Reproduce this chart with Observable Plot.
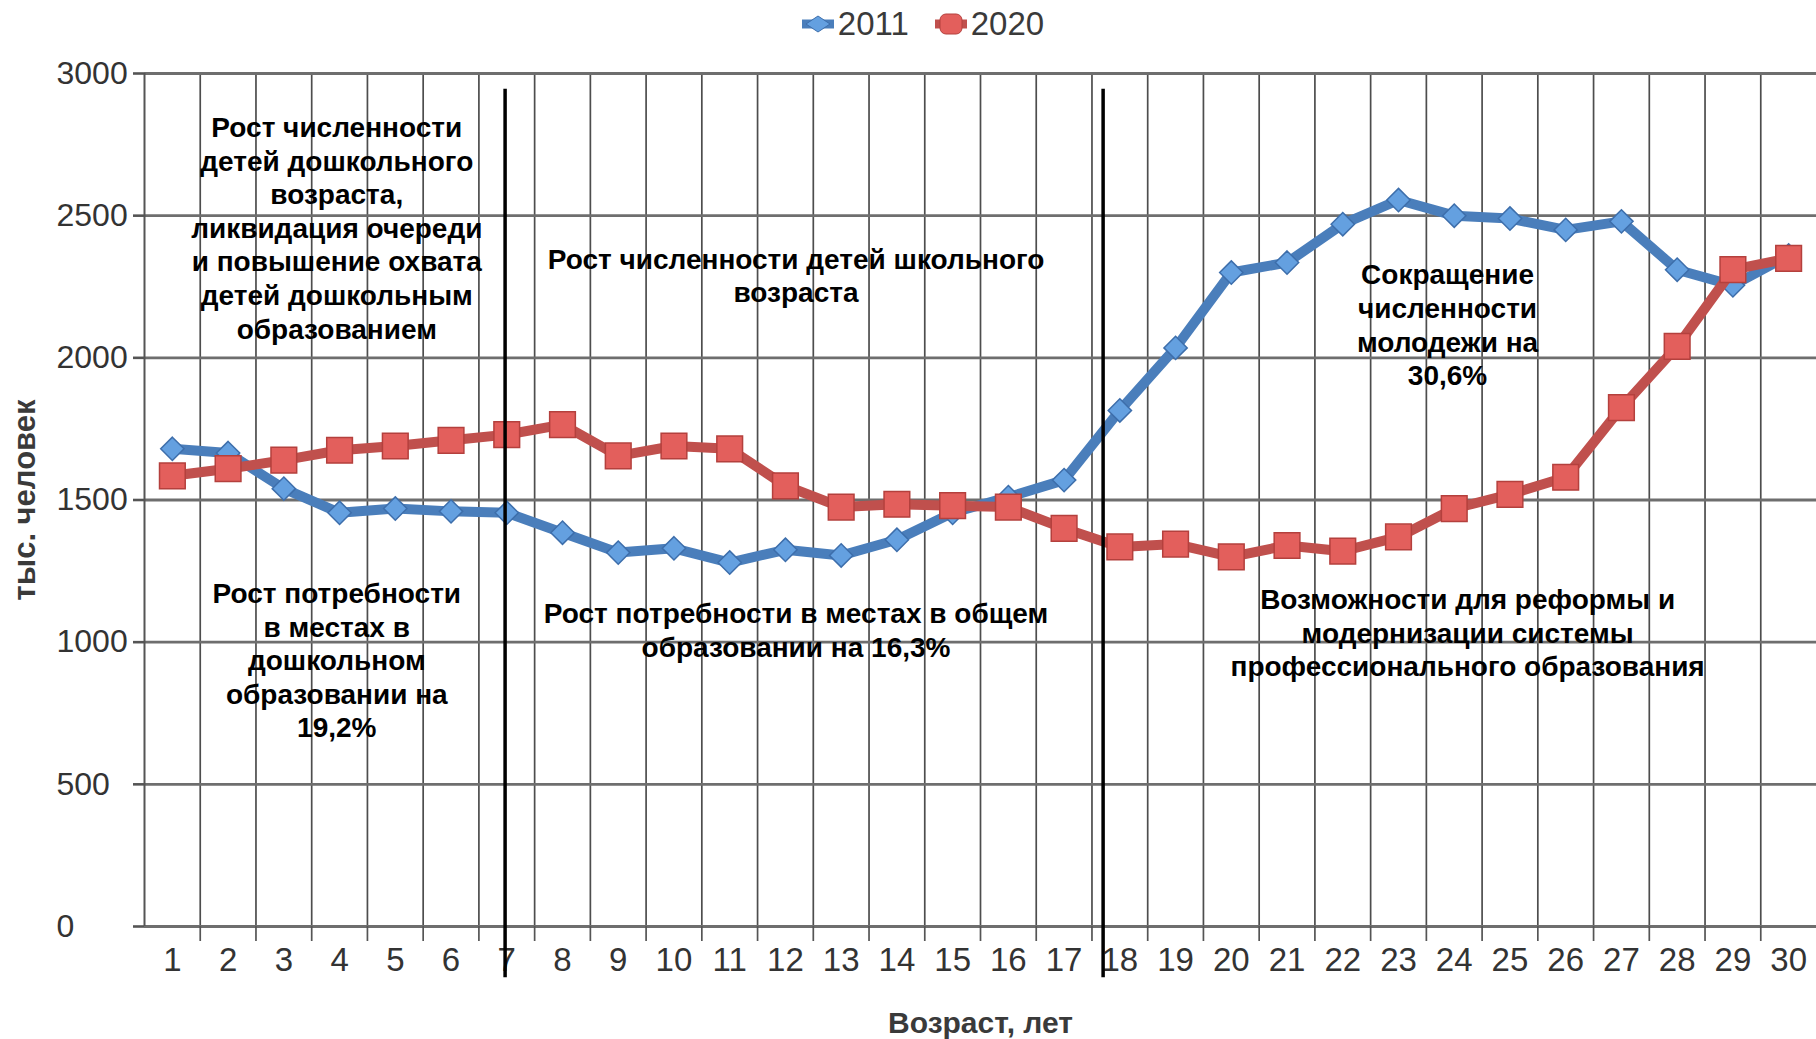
<!DOCTYPE html>
<html>
<head>
<meta charset="utf-8">
<script src="https://cdn.jsdelivr.net/npm/d3@7"></script>
<script src="https://cdn.jsdelivr.net/npm/@observablehq/plot@0.6"></script>
<style>
  html, body { margin: 0; padding: 0; background: #fff; }
  #wrap { position: relative; width: 1816px; height: 1039px; overflow: hidden; }
  #legend { position: absolute; top: 5px; left: 0; width: 1816px; display: flex; justify-content: center; align-items: center; gap: 26px;
            font-family: "Liberation Sans", Arial, sans-serif; font-size: 33px; color: #3a3a3a; padding-left: 30px; box-sizing: border-box; }
  .item { display: flex; align-items: center; gap: 4px; }
  #chart { position: absolute; top: 0; left: 0; }
</style>
</head>
<body>
<div id="wrap">
  <div id="chart"></div>
  <div id="legend"></div>
</div>
<script>
// ---- data ----
const ages = [1,2,3,4,5,6,7,8,9,10,11,12,13,14,15,16,17,18,19,20,21,22,23,24,25,26,27,28,29,30];
const pop2011 = [1680,1665,1540,1455,1470,1460,1455,1385,1315,1330,1280,1325,1305,1360,1455,1510,1570,1815,2035,2300,2335,2470,2555,2500,2490,2450,2480,2310,2255,2360];
const pop2020 = [1585,1610,1640,1675,1690,1710,1730,1765,1655,1690,1680,1550,1475,1485,1480,1475,1400,1335,1345,1300,1340,1320,1370,1470,1520,1580,1825,2040,2310,2350];
const yTicks = [0,500,1000,1500,2000,2500,3000];
const seriesNames = ["2011","2020"];
const dividers = [6.97, 17.7];
const notes = [
  {x: 3.95, y: 2460, text: "Рост численности\nдетей дошкольного\nвозраста,\nликвидация очереди\nи повышение охвата\nдетей дошкольным\nобразованием"},
  {x: 12.19, y: 2292, text: "Рост численности детей школьного\nвозраста"},
  {x: 23.88, y: 2119, text: "Сокращение\nчисленности\nмолодежи на\n30,6%"},
  {x: 3.95, y: 939, text: "Рост потребности\nв местах в\nдошкольном\nобразовании на\n19,2%"},
  {x: 12.19, y: 1045, text: "Рост потребности в местах в общем\nобразовании на 16,3%"},
  {x: 24.24, y: 1036, text: "Возможности для реформы и\nмодернизации системы\nпрофессионального образования"}
];
const xTitle = "Возраст, лет";
const yTitle = "тыс. человек";

// ---- styles ----
const blueLine = "#4a7ebb", blueFill = "#64a0e0", blueEdge = "#3d6eab";
const redLine = "#c0504d", redFill = "#e35f5c", redEdge = "#b4403d";

const rows = ages.map((a, i) => ({age: a, v2011: pop2011[i], v2020: pop2020[i]}));
const bounds = ages.slice(1).map(a => a - 0.5);

const plot = Plot.plot({
  width: 1816,
  height: 1039,
  marginLeft: 144,
  marginRight: 0,
  marginTop: 73,
  marginBottom: 113,
  style: {fontFamily: "'Liberation Sans', Arial, sans-serif", background: "transparent", overflow: "visible"},
  x: {type: "linear", domain: [0.5, 30.5]},
  y: {domain: [0, 3000]},
  marks: [
    Plot.gridX({ticks: bounds, stroke: "#4d4d4d", strokeOpacity: 1, strokeWidth: 1.7}),
    Plot.gridY({ticks: yTicks, stroke: "#6e6e6e", strokeOpacity: 1, strokeWidth: 2.8}),
    Plot.ruleX([0.5], {stroke: "#555", strokeWidth: 2}),
    Plot.axisX({ticks: bounds, tickSize: 15, tickFormat: () => "", stroke: "#555", strokeWidth: 1.7}),
    Plot.axisX({ticks: ages, tickSize: 0, tickPadding: 21, fontSize: 33, fill: "#333", tickFormat: d => String(d), label: null}),
    Plot.axisY({ticks: yTicks, tickSize: 11, tickFormat: () => "", stroke: "#555", strokeWidth: 2.6, label: null}),
    Plot.axisY({ticks: yTicks, tickSize: 0, tickPadding: 0, textAnchor: "start", dx: -88, fontSize: 32, fill: "#333", tickFormat: d => String(d), label: null}),
    Plot.text([xTitle], {frameAnchor: "bottom", dy: 106, textAnchor: "middle", text: d => d, fontSize: 30, fontWeight: "bold", fill: "#3a3a3a"}),
    Plot.text([yTitle], {frameAnchor: "left", dx: -119, rotate: -90, textAnchor: "middle", lineAnchor: "middle", text: d => d, fontSize: 31, fontWeight: "bold", fill: "#3a3a3a"}),
    Plot.line(rows, {x: "age", y: "v2011", stroke: blueLine, strokeWidth: 10, strokeLinejoin: "round"}),
    Plot.dot(rows, {x: "age", y: "v2011", symbol: "diamond2", r: 10.5, fill: blueFill, stroke: blueEdge, strokeWidth: 1.5}),
    Plot.line(rows, {x: "age", y: "v2020", stroke: redLine, strokeWidth: 10, strokeLinejoin: "round"}),
    Plot.dot(rows, {x: "age", y: "v2020", symbol: "square", r: 14.5, fill: redFill, stroke: redEdge, strokeWidth: 1.5}),
    Plot.ruleX(dividers, {x: d => d, y1: -180, y2: 2945, stroke: "#000", strokeWidth: 3.5, clip: false}),
    Plot.text(notes, {x: "x", y: "y", text: "text", fontSize: 28, fontWeight: "bold", fill: "#000", lineHeight: 1.2, lineAnchor: "middle", textAnchor: "middle"})
  ]
});
document.getElementById("chart").appendChild(plot);

// ---- legend ----
const legend = document.getElementById("legend");
const markers = [
  {name: seriesNames[0], line: blueLine, fill: blueFill, edge: blueEdge, shape: "diamond"},
  {name: seriesNames[1], line: redLine, fill: redFill, edge: redEdge, shape: "square"}
];
for (const m of markers) {
  const item = document.createElement("div");
  item.className = "item";
  const shape = m.shape === "diamond"
    ? `<polygon points="16,5 28,13 16,21 4,13" fill="${m.fill}" stroke="${m.edge}" stroke-width="1"/>`
    : `<rect x="5" y="3" width="22" height="20" rx="6" fill="${m.fill}" stroke="${m.edge}" stroke-width="1"/>`;
  item.innerHTML = `<svg width="32" height="26"><line x1="0" y1="13" x2="32" y2="13" stroke="${m.line}" stroke-width="9"/>${shape}</svg><span>${m.name}</span>`;
  legend.appendChild(item);
}
</script>
</body>
</html>
